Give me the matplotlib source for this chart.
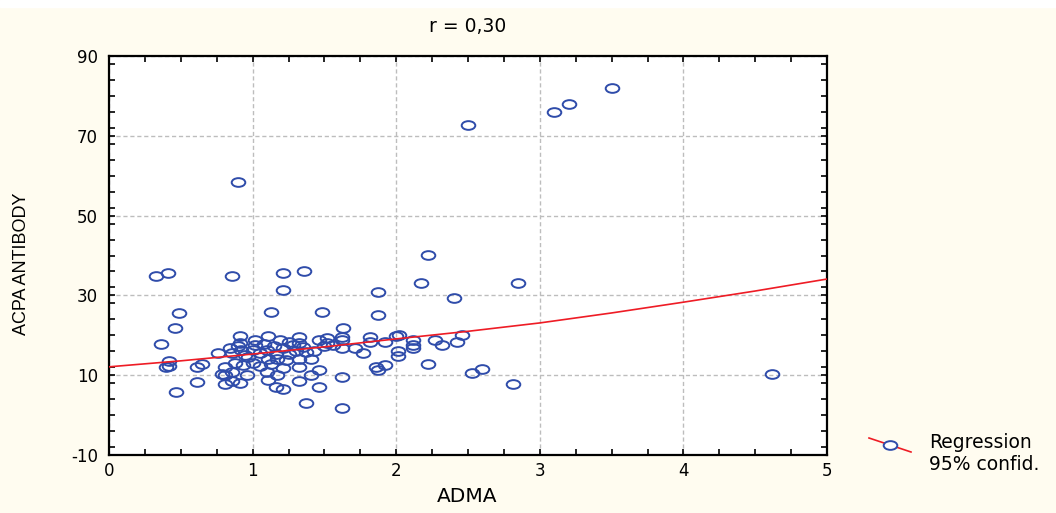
import numpy as np
import matplotlib
matplotlib.use("Agg")
import matplotlib.pyplot as plt
from matplotlib.path import Path
from matplotlib.transforms import Affine2D
from matplotlib.lines import Line2D
from matplotlib.patches import Rectangle
from matplotlib.ticker import MultipleLocator

# scatter values (ADMA, ACPA antibody)
adma = [
    0.90, 2.50, 3.10, 3.20, 3.50, 4.62, 2.85, 2.81, 2.22, 2.17, 2.40,
    0.33, 0.41, 0.86, 1.21, 1.36, 1.21, 1.87, 0.49, 1.13, 1.48, 1.87, 0.46, 1.63,
    0.36, 0.91, 1.11, 1.32, 1.52, 1.62, 1.82, 2.00, 2.02, 1.02, 0.91, 0.84,
    1.02, 1.00, 1.19, 1.32, 1.46, 1.52, 1.62, 1.62, 1.71, 1.77, 1.82, 1.92,
    2.01, 2.01, 2.12, 2.12, 2.12, 2.27, 2.32, 2.42, 2.46, 2.22, 2.53, 2.60,
    0.76, 0.86, 0.92, 0.97, 1.00, 1.10, 1.11, 1.17, 1.21, 1.23, 1.21, 1.32,
    1.32, 1.41, 1.37, 0.42, 0.40, 0.42, 0.61, 0.65, 0.81, 0.88, 0.79, 0.81,
    0.86, 0.96, 1.10, 1.17, 1.11, 0.81, 0.86, 0.91, 0.61, 0.47, 1.16, 1.21,
    1.32, 1.41, 1.46, 1.46, 1.62, 1.37, 1.62, 1.86, 1.87, 1.92,
    0.90, 0.95, 1.05, 1.15, 1.25, 1.28, 1.05, 1.13, 1.25, 1.35, 1.30, 1.43,
    1.56, 1.16, 0.93, 1.08, 1.50,
]
acpa = [
    58.5, 72.8, 76.0, 78.0, 82.0, 10.3, 33.1, 7.8, 40.1, 33.1, 29.4,
    34.9, 35.6, 34.9, 35.6, 36.1, 31.4, 30.9, 25.6, 25.8, 25.8, 25.1, 21.8, 21.8,
    17.8, 19.8, 19.8, 19.6, 19.4, 19.6, 19.6, 19.8, 20.1, 18.8, 18.1, 16.8,
    17.6, 16.3, 18.8, 18.1, 18.8, 18.1, 18.8, 16.8, 16.8, 15.6, 18.3, 18.3,
    16.1, 14.8, 18.8, 17.6, 16.8, 18.8, 17.6, 18.3, 20.1, 12.8, 10.6, 11.6,
    15.6, 15.6, 16.3, 14.6, 13.1, 16.3, 14.1, 14.1, 16.8, 13.8, 11.8, 14.1,
    12.1, 14.1, 15.8, 13.6, 12.1, 12.3, 12.1, 12.8, 12.1, 13.1, 10.3, 10.1,
    10.8, 10.1, 10.8, 10.1, 8.8, 7.8, 8.6, 8.1, 8.4, 5.8, 7.0, 6.5,
    8.6, 10.1, 11.2, 7.0, 9.6, 3.0, 1.8, 12.1, 11.3, 12.6,
    17.2, 15.0, 15.5, 17.2, 15.2, 17.5, 12.3, 12.8, 18.3, 17.0, 16.0, 16.0,
    17.6, 15.2, 12.6, 17.8, 17.3,
]

# regression curve
fit_x = [0.0, 0.5, 1.0, 1.5, 2.0, 2.5, 3.0, 3.5, 4.0, 4.5, 5.0]
fit_y = [12.1, 13.6, 15.3, 17.1, 19.1, 21.0, 23.1, 25.6, 28.3, 31.1, 34.1]

x_ticks = [0, 1, 2, 3, 4, 5]
y_ticks = [-10, 10, 30, 50, 70, 90]

BG = "#FFFCF0"
BLUE = "#2F4CAA"
RED = "#EE1C25"

plt.rcParams["font.family"] = ["DejaVu Sans"]
plt.rcParams["axes.unicode_minus"] = False

W, H = 1056, 513
fig = plt.figure(figsize=(W / 100, H / 100), dpi=100, facecolor=BG)
fig.patches.append(Rectangle((0, 1 - 7 / H), 1, 7 / H, transform=fig.transFigure,
                             color="white", zorder=0))
ax = fig.add_axes([109 / W, 1 - 455 / H, (827 - 109) / W, (455 - 56) / H])
ax.set_facecolor("white")

ellipse = Path.unit_circle().transformed(Affine2D().scale(1, 0.64))

ax.plot(adma, acpa, ls="none", marker=ellipse, ms=9.8, mfc="none",
        mec=BLUE, mew=1.4, zorder=3)
ax.plot(fit_x, fit_y, color=RED, lw=1.2, zorder=4)

ax.set_xlim(0, 5)
ax.set_ylim(-10, 90)
ax.set_xticks(x_ticks)
ax.set_yticks(y_ticks)
ax.xaxis.set_minor_locator(MultipleLocator(0.25))
ax.yaxis.set_minor_locator(MultipleLocator(4))
ax.tick_params(which="both", direction="in", top=True, right=True,
               width=1.2, color="black")
ax.tick_params(which="major", length=4.5, labelsize=12)
ax.tick_params(which="minor", length=4)
ax.tick_params(axis="y", pad=8)
ax.tick_params(axis="x", pad=5)
ax.grid(True, which="major", color="#BDBDBD", ls=(0, (3, 2)), lw=1)
for s in ax.spines.values():
    s.set_linewidth(1.6)
    s.set_color("black")

fig.text(468 / W, 1 - 27 / H, "r = 0,30", ha="center", va="center", fontsize=13.5)
fig.text(467 / W, 1 - 497 / H, "ADMA", ha="center", va="center", fontsize=14.5)
fig.text(22 / W, 1 - 264 / H, "ACPA ANTIBODY", ha="center", va="center",
         rotation=90, fontsize=13,
         family=["Liberation Sans", "DejaVu Sans"])

# legend drawn by hand: sloped red line with the marker on it
fig.add_artist(Line2D([869 / W, 911 / W], [1 - 438 / H, 1 - 452 / H],
                      transform=fig.transFigure, color=RED, lw=1.2))
fig.add_artist(Line2D([890 / W], [1 - 445 / H], transform=fig.transFigure,
                      ls="none", marker=ellipse, ms=9.8, mfc="white",
                      mec=BLUE, mew=1.4))
fig.text(929 / W, 1 - 443 / H, "Regression", ha="left", va="center", fontsize=13.5)
fig.text(929 / W, 1 - 465 / H, "95% confid.", ha="left", va="center", fontsize=13.5)

fig.savefig("out.png", dpi=100, facecolor=BG)
